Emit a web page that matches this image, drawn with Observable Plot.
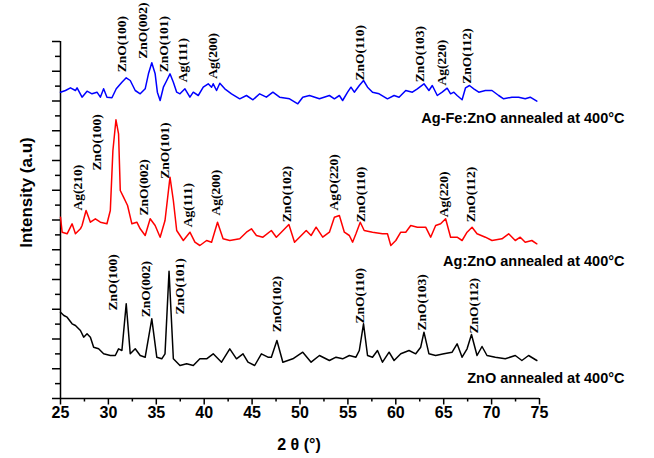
<!DOCTYPE html>
<html>
<head>
<meta charset="utf-8">
<script src="https://cdn.jsdelivr.net/npm/d3@7"></script>
<script src="https://cdn.jsdelivr.net/npm/@observablehq/plot@0.6"></script>
<style>
  html, body { margin: 0; padding: 0; background: #fff; }
</style>
</head>
<body>
<div id="chart"></div>
<script>
// ---- Data (2θ in degrees, intensity in arbitrary units) ----
const znoData = [
  [25.00,86.3],[25.35,83],[25.69,81.3],[26.21,74.7],[26.56,73],[27.08,68],[27.42,61.3],[27.77,64.7],
  [28.12,61.3],[28.46,51.3],[28.98,49.7],[29.50,44.7],[30.20,43],[30.72,43],[31.06,49.7],[31.41,48],
  [31.86,94.7],[32.28,44.7],[32.80,49.7],[33.32,43],[33.84,41.3],[34.53,79.7],[35.05,41.3],[35.57,39.7],
  [35.91,44.7],[36.33,127.3],[36.78,39.7],[37.47,33],[38.17,34.7],[38.86,33],[39.55,39.7],[40.25,39.7],
  [40.94,44.7],[41.81,36.3],[42.67,49.7],[43.37,39.7],[44.05,44.7],[44.57,36.3],[45.27,33],[45.97,44.7],
  [46.65,41.3],[47.01,41.3],[47.59,58],[48.21,36.3],[49.25,39.7],[50.29,46.3],[51.16,36.3],[52.03,43],
  [53.07,38],[53.76,41.3],[54.45,39.7],[55.15,43],[55.84,41.3],[56.19,48],[56.63,74.7],[57.05,43],
  [57.57,41.3],[58.09,48],[58.61,36.3],[59.30,46.3],[59.82,38],[60.52,44.7],[61.38,48],[62.08,44.7],
  [62.60,51.3],[62.94,66.3],[63.46,44.7],[64.16,43],[65.02,44.7],[65.88,46.3],[66.40,54.7],[66.92,41.3],
  [67.44,49.7],[67.90,64],[68.48,43],[69.00,52],[69.52,43],[70.39,41.3],[71.43,39.7],[72.47,43],
  [73.16,38],[73.86,43],[74.72,38]
];
const agznoData = [
  [25.00,181.3],[25.17,166.3],[25.69,164.7],[26.21,174.7],[26.56,164.7],[27.08,169.7],[27.25,173],[27.67,188],
  [28.12,176.3],[28.64,179.7],[29.16,176.3],[29.85,174.7],[30.20,188],[30.47,248],[30.79,278.7],[31.06,264.7],
  [31.24,208],[31.58,201.3],[32.00,193],[32.45,174.7],[32.97,176.3],[33.32,169.7],[33.84,163],[34.36,179.7],
  [34.88,173],[35.40,161.3],[35.91,178],[36.43,221.3],[36.78,198],[37.13,168],[37.82,158],[38.51,166.3],
  [39.03,156.3],[39.55,153],[40.25,158],[40.77,156.3],[41.39,176.3],[41.97,159.7],[42.67,158],[43.71,159.7],
  [44.41,166.3],[44.93,169.7],[45.45,163],[46.13,161.3],[47.01,168],[47.53,161.3],[48.05,166.3],[48.84,174],
  [49.43,156.3],[49.95,161.3],[50.65,168],[51.16,163],[51.68,171.3],[52.37,161.3],[53.07,166.3],[53.59,181.3],
  [54.11,183],[54.63,166.3],[55.15,163],[55.49,156.3],[55.84,164.7],[56.29,176.3],[56.70,168],[57.57,166.3],
  [58.61,164.7],[59.13,164.7],[59.48,153],[60.00,158],[60.52,166.3],[61.04,166.3],[61.56,173],[62.25,171.3],
  [63.12,171.3],[63.64,161.3],[64.16,173],[64.68,174.7],[65.20,179.7],[65.72,161.3],[66.40,161.3],[66.92,158],
  [67.44,166.3],[67.96,171.3],[68.48,164.7],[69.35,161.3],[70.04,158],[71.08,159.7],[71.78,164.7],[72.47,158],
  [72.99,161.3],[73.51,156.3],[74.20,158],[74.72,154.7]
];
const agfeData = [
  [25.00,306.3],[25.52,308],[26.04,310.7],[26.56,308],[26.73,310.7],[27.25,301.3],[27.77,307.3],[28.29,304.7],
  [28.81,306.3],[29.16,301.3],[29.50,309.7],[29.85,301.3],[30.37,300.7],[30.82,309.7],[31.41,316.3],[31.86,320.7],
  [32.28,318],[32.80,308],[33.32,304.7],[33.84,309.7],[34.18,324.7],[34.53,335.7],[34.88,324.7],[35.11,306.3],
  [35.40,298],[35.74,311.3],[36.09,318],[36.43,324.7],[36.78,316.3],[37.13,306.3],[37.47,304.7],[37.99,309.7],
  [38.51,301.3],[38.86,306.3],[39.38,303],[39.90,311.3],[40.42,314.7],[40.77,311.3],[40.94,314.7],[41.29,308],
  [41.63,315.3],[42.15,309.7],[42.85,304.7],[43.71,299.7],[44.41,303],[45.09,298.7],[45.79,304.7],[46.49,301.3],
  [47.17,306.3],[47.87,301.3],[48.91,299.7],[49.77,294.7],[50.29,301.3],[50.99,303],[52.03,299.7],[53.07,303],
  [53.59,299.7],[54.11,303],[54.45,298],[54.97,306.3],[55.32,311.3],[55.67,306.3],[56.19,313],[56.63,318],
  [57.05,311.3],[57.57,306.3],[58.26,304.7],[59.13,299.7],[59.82,303],[60.34,301.3],[61.04,308],[61.73,306.3],
  [62.25,309.7],[62.94,314.7],[63.46,308],[63.81,313],[64.33,303],[64.84,306.3],[65.36,310.3],[65.72,304.7],
  [66.06,306.3],[66.40,303],[66.92,298.7],[67.28,310.7],[67.69,313],[68.14,309.7],[68.66,306.3],[69.35,308],
  [70.04,308],[70.74,303],[71.26,299.7],[72.12,301.3],[72.82,301.3],[73.51,299.7],[74.03,301.3],[74.72,297.3]
];

// Peak labels: [text, 2θ, intensity at label foot]
const znoPeaks = [
  ["ZnO(100)",30.41,88],["ZnO(002)",33.94,81.3],["ZnO(101)",37.47,84],["ZnO(102)",47.53,66.3],
  ["ZnO(110)",56.19,75],["ZnO(103)",62.73,68],["ZnO(112)",68.09,65]
];
const agznoPeaks = [
  ["Ag(210)",26.77,188],["ZnO(100)",28.81,228],["ZnO(002)",33.73,183],["ZnO(101)",35.86,219.7],
  ["Ag(111)",38.25,171.3],["Ag(200)",41.22,183],["ZnO(102)",48.65,176.3],["AgO(220)",53.48,188],
  ["ZnO(110)",56.29,176.3],["Ag(220)",65.02,181.3],["ZnO(112)",67.83,176.3]
];
const agfePeaks = [
  ["ZnO(100)",31.34,326.3],["ZnO(002)",33.58,339.7],["ZnO(101)",35.81,326.3],["Ag(111)",37.73,316.3],
  ["Ag(200)",40.85,319.7],["ZnO(110)",56.19,318],["ZnO(103)",62.53,316.3],["Ag(220)",64.81,313],
  ["ZnO(112)",67.36,314.7]
];

// Series names with label baseline intensity
const seriesNames = ["Ag-Fe:ZnO annealed at 400°C", "Ag:ZnO annealed at 400°C", "ZnO annealed at 400°C"];
const seriesLabelY = [276, 132.6, 15.5];
const seriesColors = ["#0000ff", "#ff0000", "#000000"];

const xMajor = [25, 30, 35, 40, 45, 50, 55, 60, 65, 70, 75];
const xMinor = [27.5, 32.5, 37.5, 42.5, 47.5, 52.5, 57.5, 62.5, 67.5, 72.5];
const yStep = 29.75;
const yMajor = d3.range(0, 13).map(i => i * yStep);
const yMinor = d3.range(0, 12).map(i => (i + 0.5) * yStep);

const xTitle = "2 θ (°)";
const yTitle = "Intensity (a.u)";

const serif = "'Liberation Serif', 'Times New Roman', serif";
const sans = "'Liberation Sans', Arial, sans-serif";

const peakText = (arr) => Plot.text(arr, {
  x: d => d[1], y: d => d[2], text: d => d[0],
  rotate: -90, textAnchor: "start", lineAnchor: "middle",
  fontFamily: serif, fontSize: 13.5, fontWeight: "bold", fill: "#000"
});

const chart = Plot.plot({
  width: 654,
  height: 458,
  marginLeft: 60,
  marginRight: 115,
  marginTop: 41,
  marginBottom: 60,
  x: {domain: [25, 75], axis: null},
  y: {domain: [0, 357], axis: null},
  style: {background: "#fff", overflow: "visible"},
  marks: [
    // axes
    Plot.axisX({ticks: xMajor, tickSize: 6.5, tickFormat: () => "", strokeWidth: 1.5, label: null}),
    Plot.axisX({ticks: xMinor, tickSize: 3.5, tickFormat: () => "", strokeWidth: 1.5, label: null}),
    Plot.axisY({ticks: yMajor, tickSize: 8, tickFormat: () => "", strokeWidth: 1.5, label: null}),
    Plot.axisY({ticks: yMinor, tickSize: 5, tickFormat: () => "", strokeWidth: 1.5, label: null}),
    Plot.ruleY([0], {strokeWidth: 1.5}),
    Plot.ruleX([25], {strokeWidth: 1.5}),
    Plot.text(xMajor, {x: d => d, frameAnchor: "bottom", dy: 8, lineAnchor: "top", textAnchor: "middle", text: d => String(d),
      fontFamily: sans, fontSize: 16, fontWeight: "bold", fill: "#000"}),
    Plot.text([xTitle], {frameAnchor: "bottom", dy: 51, dx: -1, lineAnchor: "bottom", textAnchor: "middle", text: d => d,
      fontFamily: sans, fontSize: 16, fontWeight: "bold", fill: "#000"}),
    Plot.text([yTitle], {frameAnchor: "left", y: 206, dx: -34, rotate: -90, textAnchor: "middle", lineAnchor: "middle", text: d => d,
      fontFamily: sans, fontSize: 17, fontWeight: "bold", fill: "#000"}),
    // curves
    Plot.line(znoData, {x: d => d[0], y: d => d[1], stroke: seriesColors[2], strokeWidth: 1.5}),
    Plot.line(agznoData, {x: d => d[0], y: d => d[1], stroke: seriesColors[1], strokeWidth: 1.5}),
    Plot.line(agfeData, {x: d => d[0], y: d => d[1], stroke: seriesColors[0], strokeWidth: 1.5}),
    // peak labels
    peakText(znoPeaks),
    peakText(agznoPeaks),
    peakText(agfePeaks),
    // series labels
    Plot.text(seriesNames, {x: () => 75, y: (d, i) => seriesLabelY[i], dx: 85, text: d => d,
      textAnchor: "end", lineAnchor: "bottom", fontFamily: sans, fontSize: 14.5, fontWeight: "bold", fill: "#000"})
  ]
});
document.getElementById("chart").appendChild(chart);
</script>
</body>
</html>
